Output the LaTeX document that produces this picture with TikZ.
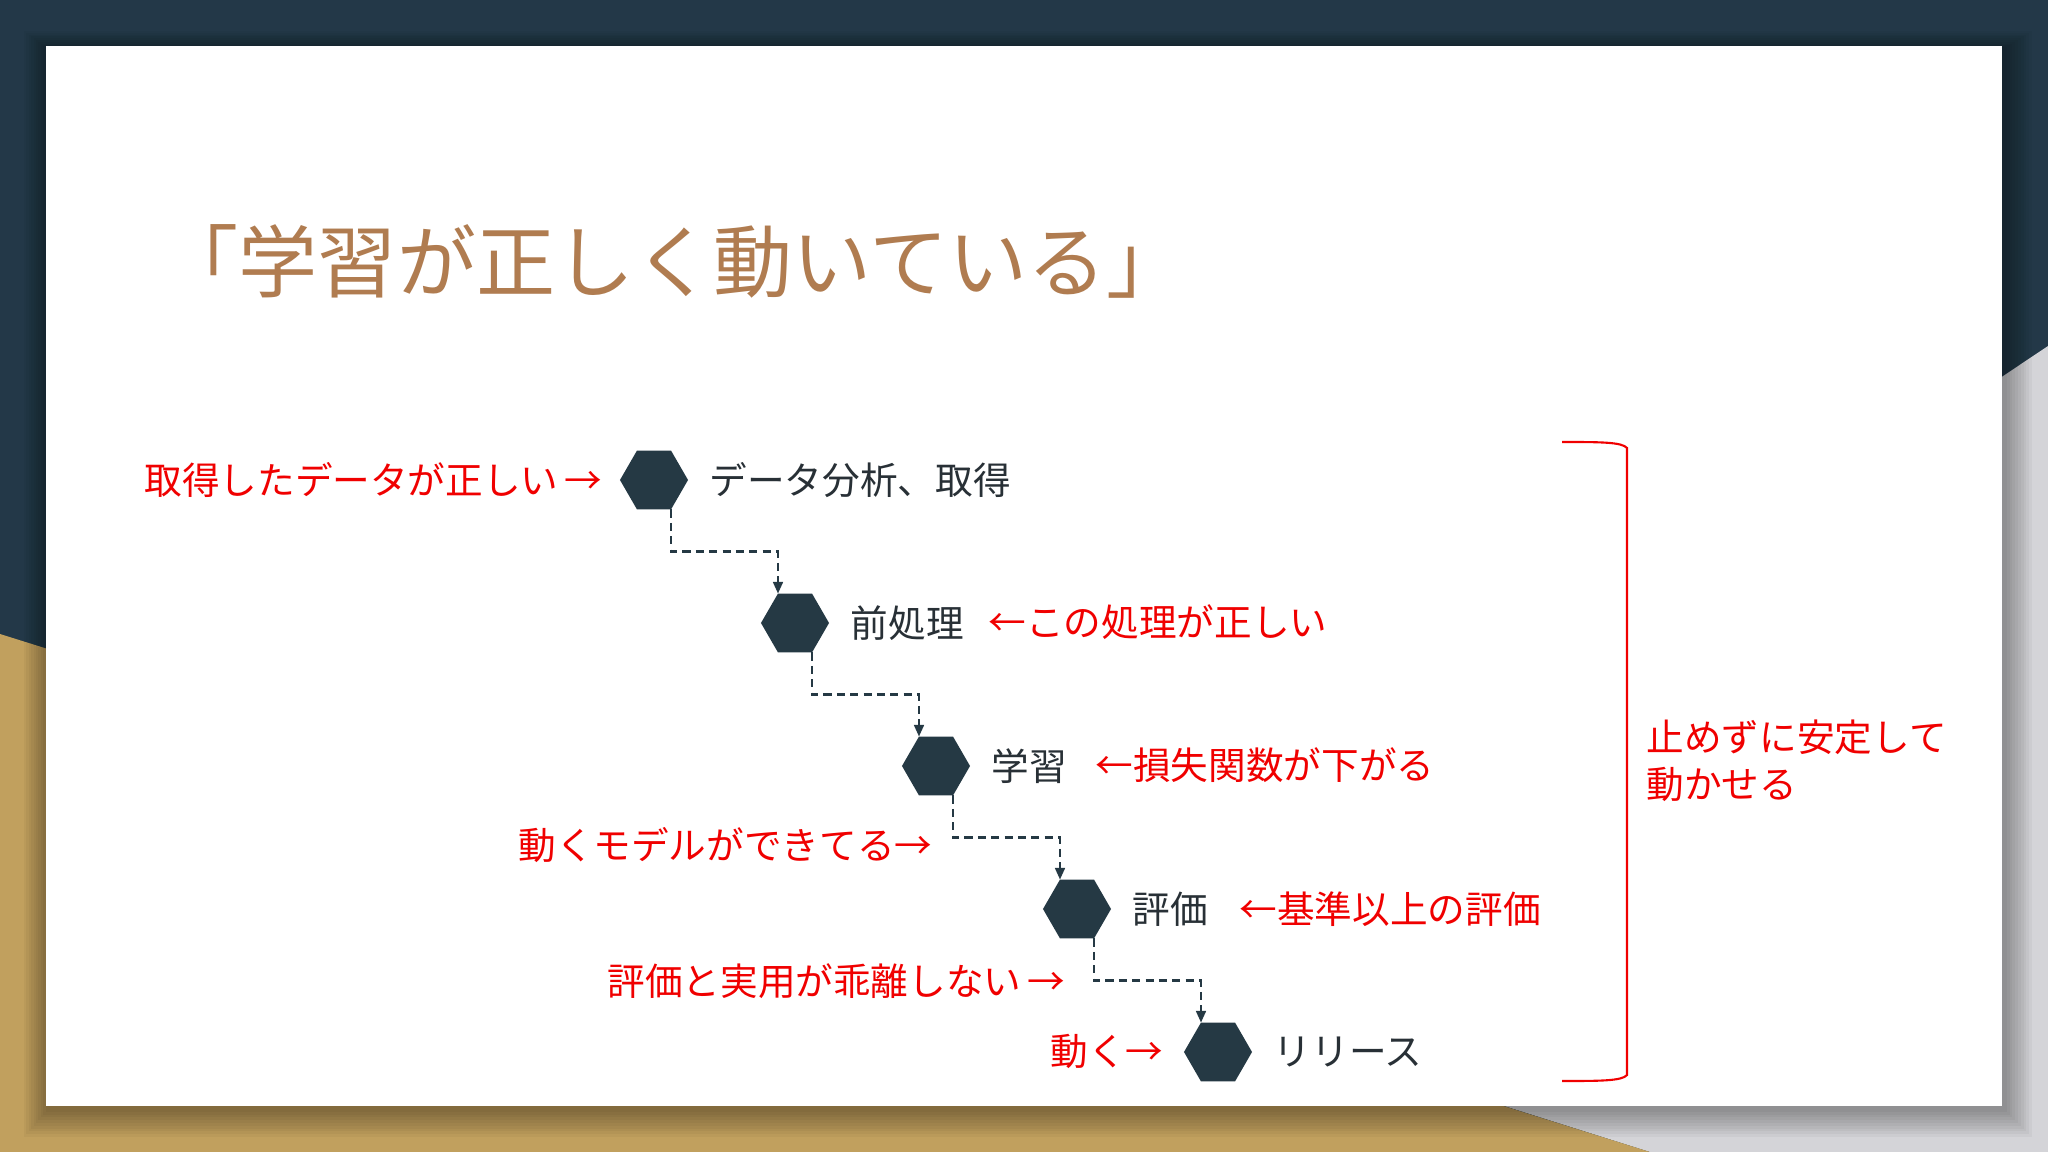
\documentclass[tikz,border=0pt]{standalone}
\usepackage{fontspec}
\setmainfont{Noto Sans CJK JP}
\usetikzlibrary{shapes.geometric,arrows.meta,positioning,calc}
\definecolor{navy}{RGB}{35,56,72}
\definecolor{gold}{RGB}{193,160,94}
\definecolor{greyb}{RGB}{212,212,216}
\definecolor{hexc}{RGB}{37,57,68}
\definecolor{txtc}{RGB}{40,48,54}
\definecolor{titlec}{RGB}{176,124,80}
\definecolor{notered}{RGB}{240,0,0}
\begin{document}
\begin{tikzpicture}[x=0.01cm,y=-0.01cm,
  hexn/.style={regular polygon,regular polygon sides=6,minimum size=0.68cm,inner sep=0pt,outer sep=0pt,fill=hexc},
  lbl/.style={anchor=west,inner sep=0pt,text=txtc,font=\fontsize{10.7pt}{13.4pt}\selectfont},
  note/.style={inner sep=0pt,text=notered,font=\fontsize{10.7pt}{13.4pt}\selectfont},
  ttl/.style={inner sep=0pt,text=titlec,font=\fontsize{22.5pt}{26pt}\selectfont},
  conn/.style={draw=hexc,line width=0.6pt,dash pattern=on 2.3pt off 1.5pt,-{Triangle[length=3.3pt,width=2.8pt]}},
  brk/.style={draw=notered,line width=0.6pt},
]
\useasboundingbox (0,0) rectangle (2048,1152);
% background
\fill[navy] (0,0) rectangle (2048,1152);
\fill[greyb] (2048,346) -- (1102,979) -- (1650,1152) -- (2048,1152) -- cycle;
\fill[gold] (0,634) -- (1650,1152) -- (0,1152) -- cycle;
% panel shadow
\foreach \i in {1,...,10}
  \fill[black,opacity=0.035] (46-\i*2.4+2,46-\i*1.8+3) rectangle (2002+\i*2.8+2,1106+\i*2.8+3);
\fill[white] (46,46) rectangle (2002,1106);

% title
\node[ttl,anchor=west] (title) at (159,261) {「学習が正しく動いている」};

% steps
\node[hexn] (h1) at (654,480) {};
\node[hexn] (h2) at (795,623) {};
\node[hexn] (h3) at (936,766) {};
\node[hexn] (h4) at (1077,909) {};
\node[hexn] (h5) at (1218,1052) {};

\node[lbl,right=0.21cm of h1] (l1) {データ分析、取得};
\node[lbl,right=0.21cm of h2] (l2) {前処理};
\node[lbl,right=0.21cm of h3] (l3) {学習};
\node[lbl,right=0.21cm of h4] (l4) {評価};
\node[lbl,right=0.21cm of h5] (l5) {リリース};

\draw[conn] (h1.-60) |- ($(h1.-60)!0.5!(h2.120)$) -| (h2.120);
\draw[conn] (h2.-60) |- ($(h2.-60)!0.5!(h3.120)$) -| (h3.120);
\draw[conn] (h3.-60) |- ($(h3.-60)!0.5!(h4.120)$) -| (h4.120);
\draw[conn] (h4.-60) |- ($(h4.-60)!0.5!(h5.120)$) -| (h5.120);

% notes
\node[note,anchor=east] (n1) at (603,480) {取得したデータが正しい\,→};
\node[note,anchor=west] (n2) at (988,622) {←この処理が正しい};
\node[note,anchor=west] (n3) at (1095,765) {←損失関数が下がる};
\node[note,anchor=east] (n4) at (933,845) {動くモデルができてる→};
\node[note,anchor=west] (n5) at (1239,909) {←基準以上の評価};
\node[note,anchor=east] (n6) at (1066,981) {評価と実用が乖離しない\,→};
\node[note,anchor=east] (n7) at (1164,1051) {動く→};

% bracket
\coordinate (bt) at (1562,442);
\coordinate (bb) at (1562,1081);
\draw[brk] (bt) .. controls (1600,442) and (1622,442) .. (1627,448) -- (1627,1075) .. controls (1622,1081) and (1600,1081) .. (bb);
\node[note,anchor=west,align=left] (n8) at (1646,761) {止めずに安定して\\動かせる};
\end{tikzpicture}
\end{document}
